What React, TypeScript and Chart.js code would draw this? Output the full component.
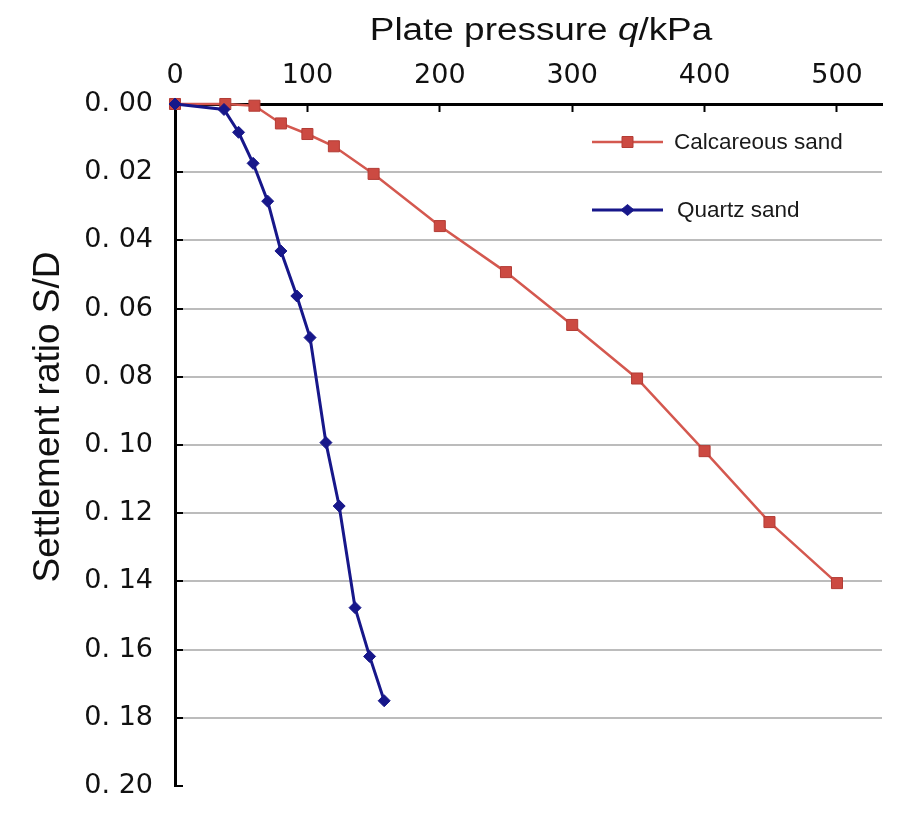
import { useEffect, useRef } from 'react';
import { Chart, registerables } from 'chart.js';

Chart.register(...registerables);

// ---- data ----
const seriesNames = ['Calcareous sand', 'Quartz sand'];

const calcPressure = [0, 38, 60, 80, 100, 120, 150, 200, 250, 300, 349, 400, 449, 500];
const calcRatio = [0, 0, 0.0005, 0.0057, 0.0088, 0.0124, 0.0205, 0.0358, 0.0493, 0.0648, 0.0805, 0.1018, 0.1226, 0.1405];

const quartzPressure = [0, 37, 48, 59, 70, 80, 92, 102, 114, 124, 136, 147, 158];
const quartzRatio = [0, 0.0016, 0.0083, 0.0174, 0.0285, 0.0431, 0.0563, 0.0685, 0.0993, 0.1179, 0.1477, 0.162, 0.175];

const xTickValues = [0, 100, 200, 300, 400, 500];
const xTickLabels = ['0', '100', '200', '300', '400', '500'];
const yTickValues = [0, 0.02, 0.04, 0.06, 0.08, 0.1, 0.12, 0.14, 0.16, 0.18, 0.2];
const yTickLabels = ['0. 00', '0. 02', '0. 04', '0. 06', '0. 08', '0. 10', '0. 12', '0. 14', '0. 16', '0. 18', '0. 20'];

const xTitleParts = ['Plate pressure ', 'q', '/kPa'];
const yTitle = 'Settlement ratio S/D';

const xMax = 534;
const yMax = 0.2;

const RED_LINE = '#d4584f';
const RED_FILL = '#cc4a42';
const RED_EDGE = '#b33c35';
const BLUE = '#17178a';
const TICK_FONT = 'DejaVu Sans';
const SANS = '"Liberation Sans", Arial, sans-serif';

const overlayPlugin = {
  id: 'overlay',
  afterDraw(chart: any) {
    const ctx = chart.ctx as CanvasRenderingContext2D;
    const ca = chart.chartArea;

    // x-axis title (with italic q), slightly widened like the reference
    ctx.save();
    const fonts = [`31px ${SANS}`, `italic 31px ${SANS}`, `31px ${SANS}`];
    const widths = xTitleParts.map((p, i) => {
      ctx.font = fonts[i];
      return ctx.measureText(p).width;
    });
    const total = widths.reduce((a, b) => a + b, 0);
    ctx.translate(ca.left + 366, 40);
    ctx.scale(1.19, 1);
    ctx.fillStyle = '#111';
    ctx.textAlign = 'left';
    ctx.textBaseline = 'alphabetic';
    let x = -total / 2;
    xTitleParts.forEach((p, i) => {
      ctx.font = fonts[i];
      ctx.fillText(p, x, 0);
      x += widths[i];
    });
    ctx.restore();

    // y-axis title
    ctx.save();
    ctx.translate(49, 417);
    ctx.rotate(-Math.PI / 2);
    ctx.font = `37px ${SANS}`;
    ctx.fillStyle = '#111';
    ctx.textAlign = 'center';
    ctx.textBaseline = 'middle';
    ctx.fillText(yTitle, 0, 0);
    ctx.restore();

    // legend inside the plot
    const rows = [ca.top + 38, ca.top + 106];
    chart.data.datasets.forEach((ds: any, i: number) => {
      const y = rows[i];
      const x0 = ca.left + 417;
      const x1 = ca.left + 488;
      const mx = (x0 + x1) / 2;
      ctx.save();
      ctx.strokeStyle = ds.borderColor;
      ctx.lineWidth = ds.borderWidth;
      ctx.beginPath();
      ctx.moveTo(x0, y);
      ctx.lineTo(x1, y);
      ctx.stroke();
      ctx.fillStyle = ds.pointBackgroundColor;
      ctx.strokeStyle = ds.pointBorderColor;
      ctx.lineWidth = 1;
      ctx.beginPath();
      if (ds.pointStyle === 'rect') {
        ctx.rect(mx - 5.5, y - 5.5, 11, 11);
      } else {
        ctx.moveTo(mx, y - 5.5);
        ctx.lineTo(mx + 6.5, y);
        ctx.lineTo(mx, y + 5.5);
        ctx.lineTo(mx - 6.5, y);
        ctx.closePath();
      }
      ctx.fill();
      ctx.stroke();
      ctx.font = `22.5px ${SANS}`;
      ctx.fillStyle = '#1a1a1a';
      ctx.textAlign = 'left';
      ctx.textBaseline = 'middle';
      ctx.fillText(ds.label, x1 + 11 + (i === 1 ? 3 : 0), y + 1);
      ctx.restore();
    });
  },
};

export default function App() {
  const canvasRef = useRef<HTMLCanvasElement | null>(null);

  useEffect(() => {
    const canvas = canvasRef.current;
    if (!canvas) return;
    const chart = new Chart(canvas, {
      type: 'line',
      data: {
        datasets: [
          {
            label: seriesNames[0],
            data: calcPressure.map((p, i) => ({ x: p, y: calcRatio[i] })),
            borderColor: RED_LINE,
            borderWidth: 2.5,
            pointStyle: 'rect',
            pointRadius: 7.8,
            pointBackgroundColor: RED_FILL,
            pointBorderColor: RED_EDGE,
            pointBorderWidth: 1,
            tension: 0,
            clip: false,
            order: 1,
          },
          {
            label: seriesNames[1],
            data: quartzPressure.map((p, i) => ({ x: p, y: quartzRatio[i] })),
            borderColor: BLUE,
            borderWidth: 3,
            pointStyle: 'rectRot',
            pointRadius: 6,
            pointBackgroundColor: BLUE,
            pointBorderColor: BLUE,
            pointBorderWidth: 1,
            tension: 0,
            clip: false,
            order: 0,
          },
        ],
      },
      options: {
        animation: false,
        responsive: false,
        devicePixelRatio: 1,
        events: [],
        layout: { padding: { top: 0, left: 0, right: 33, bottom: 32 } },
        plugins: {
          legend: { display: false },
          tooltip: { enabled: false },
          title: { display: false },
        },
        scales: {
          x: {
            type: 'linear',
            position: 'top',
            min: 0,
            max: xMax,
            afterBuildTicks: (scale: any) => {
              scale.ticks = xTickValues.map((v) => ({ value: v }));
            },
            afterFit: (scale: any) => {
              scale.height = 104;
              scale.paddingLeft = 0;
              scale.paddingRight = 0;
            },
            ticks: {
              autoSkip: false,
              maxRotation: 0,
              padding: 20,
              color: '#111',
              font: { family: TICK_FONT, size: 27 },
              callback: (v: any) => {
                const i = xTickValues.indexOf(Number(v));
                return i >= 0 ? xTickLabels[i] : '';
              },
            },
            grid: {
              drawOnChartArea: false,
              drawTicks: true,
              tickLength: -8,
              tickColor: '#000',
              tickWidth: 2,
            },
            border: { display: true, color: '#000', width: 3 },
          },
          y: {
            type: 'linear',
            position: 'left',
            reverse: true,
            min: 0,
            max: yMax,
            afterBuildTicks: (scale: any) => {
              scale.ticks = yTickValues.map((v) => ({ value: v }));
            },
            afterFit: (scale: any) => {
              scale.width = 175;
              scale.paddingTop = 0;
              scale.paddingBottom = 0;
            },
            ticks: {
              autoSkip: false,
              padding: 30,
              color: '#111',
              font: { family: TICK_FONT, size: 27 },
              callback: (v: any) => {
                const i = yTickValues.findIndex((t) => Math.abs(t - Number(v)) < 1e-9);
                return i >= 0 ? yTickLabels[i] : '';
              },
            },
            grid: {
              drawTicks: true,
              tickLength: -8,
              tickColor: '#000',
              tickWidth: 2,
              lineWidth: 2,
              color: (c: any) => {
                const v = c.tick ? c.tick.value : 0;
                return v < 1e-9 || Math.abs(v - yMax) < 1e-9 ? 'rgba(0,0,0,0)' : '#bcbcbc';
              },
            },
            border: { display: true, color: '#000', width: 3 },
          },
        },
      } as any,
      plugins: [overlayPlugin],
    });
    return () => chart.destroy();
  }, []);

  return (
    <div style={{ position: 'fixed', left: 0, top: 0, width: 915, height: 818, background: '#fff' }}>
      <canvas ref={canvasRef} width={915} height={818} style={{ display: 'block' }} />
    </div>
  );
}
